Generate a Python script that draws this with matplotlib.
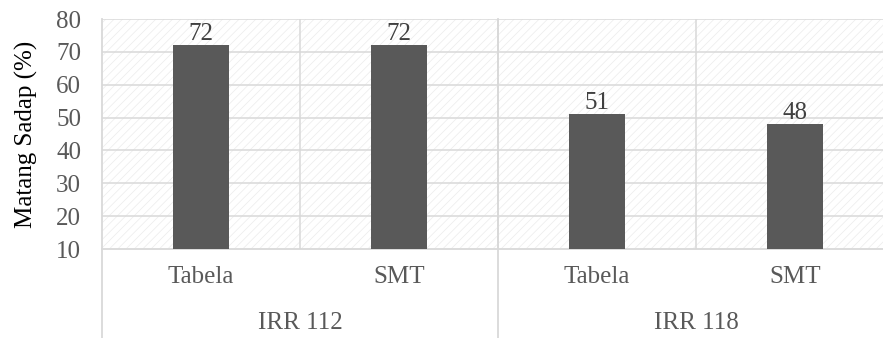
import matplotlib
matplotlib.use("Agg")
import matplotlib.pyplot as plt
from matplotlib.patches import Rectangle
from matplotlib.lines import Line2D

# Datos
varietas = ["IRR 112", "IRR 118"]
metode = ["Tabela", "SMT", "Tabela", "SMT"]
matang_sadap = [72, 72, 51, 48]
y_ticks = [10, 20, 30, 40, 50, 60, 70, 80]

gris_texto = "#595959"
gris_linea = "#d9d9d9"
tam = 18

plt.rcParams["font.family"] = ["Liberation Serif", "DejaVu Serif"]
plt.rcParams["hatch.linewidth"] = 0.5

fig = plt.figure(figsize=(8.83, 3.38), dpi=100)
ax = fig.add_axes([102 / 883, 89 / 338, 792 / 883, 230 / 338])

x = list(range(len(matang_sadap)))
ax.set_xlim(-0.5, len(x) - 0.5)
ax.set_ylim(y_ticks[0], y_ticks[-1])

# fondo punteado
fondo = Rectangle((0, 0), 1, 1, transform=ax.transAxes, facecolor="white",
                  edgecolor="#ebebeb", hatch="////", linewidth=0, zorder=0)
ax.add_patch(fondo)

# lineas de cuadricula
for v in y_ticks[1:]:
    ax.axhline(v, color=gris_linea, lw=1.1, zorder=1)
for b in [0.5, 1.5, 2.5]:
    ax.axvline(b, color=gris_linea, lw=1.1, zorder=1)

barras = ax.bar(x, matang_sadap, width=0.28, bottom=0, color="#595959", zorder=3)
for xi, v in zip(x, matang_sadap):
    ax.annotate(str(v), (xi, v), xytext=(0, 0), textcoords="offset points",
                ha="center", va="bottom", fontsize=tam, color="#404040", zorder=4)

for s in ["top", "right", "left"]:
    ax.spines[s].set_visible(False)
ax.spines["bottom"].set_color(gris_linea)
ax.spines["bottom"].set_linewidth(1.3)

ax.set_yticks(y_ticks)
ax.tick_params(axis="y", length=0, pad=15, labelsize=tam, labelcolor=gris_texto)
ax.set_xticks(x)
ax.set_xticklabels(metode)
ax.tick_params(axis="x", length=0, pad=12, labelsize=tam, labelcolor=gris_texto)

# etiquetas de grupo y separadores del eje de categorias
abajo = -89 / 230
for i, nombre in enumerate(varietas):
    ax.text(2 * i + 0.5, -74 / 230, nombre, transform=ax.get_xaxis_transform(),
            ha="center", va="center", fontsize=tam, color=gris_texto)
for b in [-0.5, 1.5]:
    ax.add_line(Line2D([b, b], [abajo, 1], transform=ax.get_xaxis_transform(),
                       color=gris_linea, lw=1.3, clip_on=False, zorder=2))

ax.set_ylabel("Matang Sadap (%)", fontsize=tam, color="black", labelpad=13)

fig.savefig("out.png", dpi=100)
